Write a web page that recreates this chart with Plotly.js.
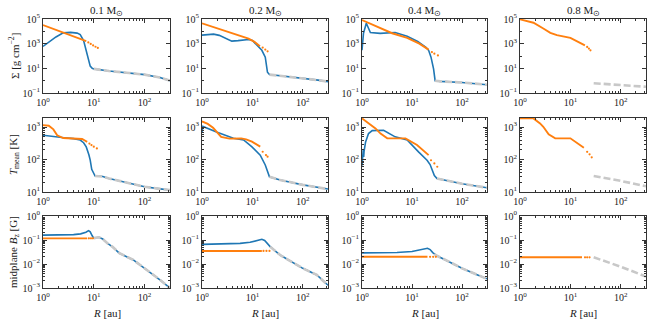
<!DOCTYPE html>
<html>
<head>
<meta charset="utf-8">
<script src="https://cdn.plot.ly/plotly-3.0.1.min.js"></script>
<style>
html, body { margin: 0; padding: 0; background: #fff; }
#chart { width: 652px; height: 322px; }
</style>
</head>
<body>
<div id="chart"></div>
<script>
// column titles (stellar mass) and row labels
var massLabels = ['0.1 M<sub>⊙</sub>', '0.2 M<sub>⊙</sub>', '0.4 M<sub>⊙</sub>', '0.8 M<sub>⊙</sub>'];
var rowLabels = ['Σ [g cm<sup>−2</sup>]', '<i>T</i><sub>mean</sub> [K]', 'midplane <i>B</i><sub>z</sub> [G]'];
var xLabel = '<i>R</i> [au]';

// tick values / labels
var xTickVals = [1, 10, 100];
var xTickText = ['10<sup>0</sup>', '10<sup>1</sup>', '10<sup>2</sup>'];
var sigTickVals = [0.1, 10, 1000, 100000];
var sigTickText = ['10<sup>−1</sup>', '10<sup>1</sup>', '10<sup>3</sup>', '10<sup>5</sup>'];
var tTickVals = [10, 100, 1000];
var tTickText = ['10<sup>1</sup>', '10<sup>2</sup>', '10<sup>3</sup>'];
var bTickVals = [0.001, 0.01, 0.1, 1];
var bTickText = ['10<sup>−3</sup>', '10<sup>−2</sup>', '10<sup>−1</sup>', '10<sup>0</sup>'];

// ---- 0.1 Msun : [R (au), value]
var sigBlue1 = [[1,600],[1.3,1300],[1.8,3500],[2.5,7500],[3.5,8200],[4.7,7200],[5.4,5500],[6.3,1800],[7.1,300],[7.8,60],[8.5,15],[9.3,10],[10,9],[20,6],[50,4.2],[100,3.1],[200,1.8],[316,1.0]];
var sigGray1 = [[10,9],[20,6],[50,4.2],[100,3.1],[200,1.8],[316,1.0]];
var sigOrange1 = [[1,32000],[2,11000],[4,3800],[7.1,1600]];
var sigDots1 = [[7.8,1250],[8.7,950],[9.7,720],[10.8,560],[12,450]];
var tBlue1 = [[1,560],[1.5,510],[2.6,470],[4,440],[5.4,400],[6.3,330],[7.1,245],[8,140],[8.5,96],[9.1,50],[10,36],[10.6,31],[13,31],[15,30],[20,26],[39,20],[100,14.5],[200,12.5],[316,11.5]];
var tGray1 = [[10.6,31],[13,31],[15,30],[20,26],[39,20],[100,14.5],[200,12.5],[316,11.5]];
var tOrange1 = [[1,1150],[1.3,1100],[1.6,850],[1.9,560],[2.5,460],[3.5,440],[5,440],[5.9,430],[6.8,380],[7.4,350]];
var tDots1 = [[8.2,310],[9,280],[10,250],[11.5,220]];
var bBlue1 = [[1,0.16],[2,0.163],[4,0.168],[5.5,0.18],[7,0.21],[7.9,0.245],[8.5,0.22],[9.3,0.15],[10,0.12],[11,0.125],[12.6,0.13],[15,0.11],[19,0.07],[23.4,0.052],[32,0.028],[60,0.0148],[100,0.0066],[150,0.0037],[200,0.0022],[316,0.001]];
var bGray1 = [[10,0.12],[11,0.125],[12.6,0.13],[15,0.11],[19,0.07],[23.4,0.052],[32,0.028],[60,0.0148],[100,0.0066],[150,0.0037],[200,0.0022],[316,0.001]];
var bOrange1 = [[1,0.117],[7.4,0.117]];
var bDots1 = [[8,0.117],[8.8,0.117],[9.6,0.117]];

// ---- 0.2 Msun
var sigBlue2 = [[1,4900],[1.35,5700],[1.7,5900],[2.2,4700],[2.9,2600],[3.9,1600],[5.2,1750],[6.8,2050],[8.4,2150],[10,1800],[12.3,740],[15.4,290],[18,81],[19.2,20],[19.9,4.8],[21.8,3.1],[40,2.4],[100,1.66],[200,1.1],[316,0.83]];
var sigGray2 = [[21.8,3.1],[40,2.4],[100,1.66],[200,1.1],[316,0.83]];
var sigOrange2 = [[1,45000],[2,18000],[4,7000],[8.4,2600],[11,1400],[14.1,620]];
var sigDots2 = [[16,480],[18,330],[20,240]];
var tBlue2 = [[1,700],[1.04,1050],[2,690],[4.2,450],[6.7,400],[9.8,245],[14.3,137],[18,68],[21.8,29.5],[35.5,23.5],[100,16.6],[316,12.3]];
var tGray2 = [[21.8,29.5],[35.5,23.5],[100,16.6],[316,12.3]];
var tOrange2 = [[1,1500],[1.3,1250],[1.66,950],[2,680],[2.4,500],[3.5,440],[6,450],[7.5,420],[9.8,355],[14.3,250]];
var tDots2 = [[16,174],[18.6,137],[20,123]];
var bBlue2 = [[1,0.066],[3,0.067],[5.7,0.072],[9,0.08],[12,0.095],[15.4,0.107],[17.5,0.095],[20,0.07],[22.5,0.053],[35.5,0.0236],[100,0.0066],[190,0.0035],[316,0.0013]];
var bGray2 = [[22.5,0.053],[35.5,0.0236],[100,0.0066],[190,0.0035],[316,0.0013]];
var bOrange2 = [[1,0.035],[15.4,0.035]];
var bDots2 = [[16.6,0.035],[19,0.035],[21.8,0.035]];

// ---- 0.4 Msun
var sigBlue3 = [[1,290],[1.07,6800],[1.22,45000],[1.35,20000],[1.47,8100],[2.3,6800],[4.6,8100],[8,4000],[13,1500],[19,500],[21.5,290],[24,81],[27,9],[29,1.0],[37,0.88],[100,0.72],[316,0.47]];
var sigGray3 = [[29,1.0],[37,0.88],[100,0.72],[316,0.47]];
var sigOrange3 = [[1,83000],[2,24000],[4,7000],[8,3000],[14,1000],[21.5,330]];
var sigDots3 = [[25,210],[28,155],[33,112]];
var tBlue3 = [[1,65],[1.02,160],[1.04,90],[1.06,200],[1.08,120],[1.1,180],[1.18,350],[1.35,630],[1.6,780],[2,800],[2.7,800],[4.6,500],[8,400],[13.5,173],[17,120],[20,95],[23,70],[25,48],[28,32],[31.6,26],[100,18],[316,13.5]];
var tGray3 = [[31.6,26],[100,18],[316,13.5]];
var tOrange3 = [[1,1850],[1.86,910],[2.35,630],[3.2,450],[7.4,450],[12.6,280],[21.5,137]];
var tDots3 = [[24,95],[28,76],[32,60]];
var bBlue3 = [[1,0.029],[5,0.03],[10,0.033],[15,0.038],[20.4,0.045],[23,0.04],[26,0.03],[31.6,0.022],[50,0.0138],[100,0.0066],[200,0.0036],[316,0.0024]];
var bGray3 = [[28,0.026],[31.6,0.022],[50,0.0138],[100,0.0066],[200,0.0036],[316,0.0024]];
var bOrange3 = [[1,0.02],[20.4,0.02]];
var bDots3 = [[23,0.02],[26.5,0.02],[30,0.02]];

// ---- 0.8 Msun (no blue run)
var sigOrange4 = [[1,93000],[1.85,50000],[2.9,17000],[4,7600],[5.4,4900],[10,2950],[19.4,740]];
var sigDots4 = [[21.5,540],[23.3,400],[25,290]];
var sigGray4 = [[29,0.62],[60,0.52],[100,0.46],[200,0.38],[316,0.32]];
var tOrange4 = [[1,1850],[1.85,1850],[2.5,1300],[2.9,1020],[3.7,600],[5,450],[10,450],[13,330],[16,270],[18.5,230]];
var tDots4 = [[21.5,173],[24,145],[26.5,117]];
var tGray4 = [[29,31],[100,22],[316,15]];
var bOrange4 = [[1,0.019],[17,0.019]];
var bDots4 = [[19.5,0.019],[21.5,0.019],[24,0.019]];
var bGray4 = [[29,0.019],[100,0.0077],[316,0.003]];

var panels = [
  [sigBlue1, sigGray1, sigOrange1, sigDots1], [sigBlue2, sigGray2, sigOrange2, sigDots2],
  [sigBlue3, sigGray3, sigOrange3, sigDots3], [null, sigGray4, sigOrange4, sigDots4],
  [tBlue1, tGray1, tOrange1, tDots1], [tBlue2, tGray2, tOrange2, tDots2],
  [tBlue3, tGray3, tOrange3, tDots3], [null, tGray4, tOrange4, tDots4],
  [bBlue1, bGray1, bOrange1, bDots1], [bBlue2, bGray2, bOrange2, bDots2],
  [bBlue3, bGray3, bOrange3, bDots3], [null, bGray4, bOrange4, bDots4]
];

var W = 652, H = 322;
var colPx = [[43,170],[202,328],[362,487],[520,646]];
var rowPx = [[19,93],[118,192],[216,288]];
var yRanges = [[-1,5],[1,3.28],[-3,0]];
var yTicks = [[sigTickVals, sigTickText], [tTickVals, tTickText], [bTickVals, bTickText]];
var yMinor = [
  [1, 100, 10000],
  [20,30,40,50,60,70,80,90,200,300,400,500,600,700,800,900],
  [0.002,0.003,0.004,0.005,0.006,0.007,0.008,0.009,0.02,0.03,0.04,0.05,0.06,0.07,0.08,0.09,0.2,0.3,0.4,0.5,0.6,0.7,0.8,0.9]
];
var xMinor = [2,3,4,5,6,7,8,9,20,30,40,50,60,70,80,90,200,300];

var BLUE = '#1f77b4', ORANGE = '#ff7f0e', GRAY = '#c8c8c8', AX = '#333333';
var FONT = 'Liberation Serif, Times New Roman, serif';

function xs(a) { return a.map(function (p) { return p[0]; }); }
function ys(a) { return a.map(function (p) { return p[1]; }); }

var data = [];
var layout = {
  width: W, height: H,
  margin: {l: 0, r: 0, t: 0, b: 0},
  paper_bgcolor: '#fff', plot_bgcolor: '#fff',
  showlegend: false,
  font: {family: FONT, size: 10, color: '#222'},
  annotations: []
};

panels.forEach(function (p, i) {
  var row = Math.floor(i / 4), col = i % 4, n = i + 1;
  var xa = 'x' + (n === 1 ? '' : n), ya = 'y' + (n === 1 ? '' : n);
  if (p[0]) data.push({x: xs(p[0]), y: ys(p[0]), xaxis: xa, yaxis: ya, mode: 'lines', line: {color: BLUE, width: 1.6}});
  data.push({x: xs(p[1]), y: ys(p[1]), xaxis: xa, yaxis: ya, mode: 'lines', line: {color: GRAY, width: 2.6, dash: '7px,3px'}});
  data.push({x: xs(p[2]), y: ys(p[2]), xaxis: xa, yaxis: ya, mode: 'lines', line: {color: ORANGE, width: 1.9}});
  data.push({x: xs(p[3]), y: ys(p[3]), xaxis: xa, yaxis: ya, mode: 'markers', marker: {color: ORANGE, size: 2.2}});

  var xKey = 'xaxis' + (n === 1 ? '' : n), yKey = 'yaxis' + (n === 1 ? '' : n);
  layout[xKey] = {
    type: 'log', range: [0, 2.5], anchor: ya,
    domain: [colPx[col][0] / W, colPx[col][1] / W],
    showline: true, linecolor: AX, linewidth: 1, mirror: 'allticks',
    ticks: 'inside', ticklen: 4, tickcolor: AX, showgrid: false, zeroline: false,
    tickmode: 'array', tickvals: xTickVals, ticktext: xTickText,
    tickfont: {family: FONT, size: 10},
    minor: {ticks: 'inside', ticklen: 2, tickcolor: AX, tickmode: 'array', tickvals: xMinor, showgrid: false}
  };
  layout[yKey] = {
    type: 'log', range: yRanges[row], anchor: xa,
    domain: [1 - rowPx[row][1] / H, 1 - rowPx[row][0] / H],
    showline: true, linecolor: AX, linewidth: 1, mirror: 'allticks',
    ticks: 'inside', ticklen: 4, tickcolor: AX, showgrid: false, zeroline: false,
    tickmode: 'array', tickvals: yTicks[row][0], ticktext: yTicks[row][1],
    tickfont: {family: FONT, size: 10},
    minor: {ticks: 'inside', ticklen: 2, tickcolor: AX, tickmode: 'array', tickvals: yMinor[row], showgrid: false}
  };
});

massLabels.forEach(function (t, c) {
  layout.annotations.push({text: t, xref: 'paper', yref: 'paper', showarrow: false,
    x: (colPx[c][0] + colPx[c][1]) / 2 / W, y: 1 - 11 / H, xanchor: 'center', yanchor: 'middle',
    font: {family: FONT, size: 11}});
  layout.annotations.push({text: xLabel, xref: 'paper', yref: 'paper', showarrow: false,
    x: (colPx[c][0] + colPx[c][1]) / 2 / W, y: 1 - 313 / H, xanchor: 'center', yanchor: 'middle',
    font: {family: FONT, size: 11}});
});
rowLabels.forEach(function (t, r) {
  layout.annotations.push({text: t, xref: 'paper', yref: 'paper', showarrow: false, textangle: -90,
    x: 14 / W, y: 1 - (rowPx[r][0] + rowPx[r][1]) / 2 / H, xanchor: 'center', yanchor: 'middle',
    font: {family: FONT, size: 11}});
});

Plotly.newPlot('chart', data, layout, {displayModeBar: false, staticPlot: true});
</script>
</body>
</html>
